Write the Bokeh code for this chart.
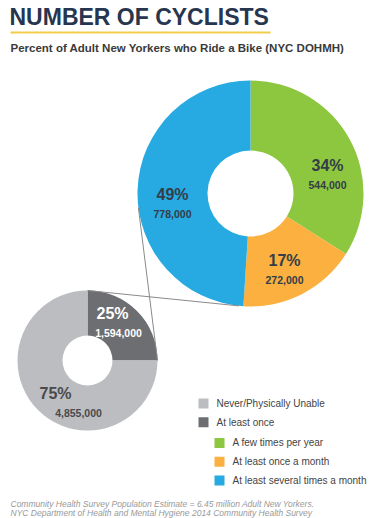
import math
from bokeh.plotting import figure
from bokeh.models import ColumnDataSource, Range1d
from bokeh.core.properties import value
from bokeh.embed import file_html
from bokeh.resources import INLINE

# ---------------- data ----------------
outer_labels = ["Never/Physically Unable", "At least once"]
outer_pct = [75, 25]
outer_count = ["4,855,000", "1,594,000"]
outer_colors = ["#bcbdc0", "#6d6e71"]

inner_labels = ["A few times per year", "At least once a month", "At least several times a month"]
inner_pct = [34, 17, 49]
inner_count = ["544,000", "272,000", "778,000"]
inner_colors = ["#8dc63f", "#fbb040", "#27a9e1"]

title = "NUMBER OF CYCLISTS"
subtitle = "Percent of Adult New Yorkers who Ride a Bike (NYC DOHMH)"
foot1 = "Community Health Survey Population Estimate = 6.45 million Adult New Yorkers."
foot2 = "NYC Department of Health and Mental Hygiene 2014 Community Health Survey"

# ---------------- layout ----------------
W, H = 379, 518
FONT = "Liberation Sans"

def X(ix):
    return ix

def Y(iy):
    return H - iy

p = figure(width=W, height=H, output_backend="svg", toolbar_location=None,
           x_range=Range1d(0, W), y_range=Range1d(0, H), min_border=0)
p.axis.visible = False
p.grid.visible = False
p.outline_line_color = None
p.background_fill_color = "white"
p.border_fill_color = "white"

# big donut geometry
BC = (X(250), Y(193)); BR = 113; BRi = 43
# small donut geometry
SC = (X(87), Y(360)); SR = 70; SRi = 25

def wedges(pcts, start_frac=0.0):
    total = sum(pcts)
    starts, ends = [], []
    cum = start_frac
    for v in pcts:
        f = v / total
        starts.append(math.pi / 2 - cum * 2 * math.pi)
        ends.append(math.pi / 2 - (cum + f) * 2 * math.pi)
        cum += f
    return starts, ends

# small donut: dark slice (25%) starts at 12 o'clock clockwise, then light gray
s_order = [1, 0]
ss, se = wedges([outer_pct[i] for i in s_order])
src_s = ColumnDataSource(dict(start=ss, end=se, color=[outer_colors[i] for i in s_order]))
p.annular_wedge(x=SC[0], y=SC[1], inner_radius=SRi, outer_radius=SR,
                start_angle="start", end_angle="end", direction="clock",
                fill_color="color", line_color=None, source=src_s)

# big donut
bs, be = wedges(inner_pct)
src_b = ColumnDataSource(dict(start=bs, end=be, color=inner_colors))
p.annular_wedge(x=BC[0], y=BC[1], inner_radius=BRi, outer_radius=BR,
                start_angle="start", end_angle="end", direction="clock",
                fill_color="color", line_color=None, source=src_b)

# connector lines (tangents from small donut's dark slice edges to the big donut)
def tangent(P, C, R, sign):
    dx, dy = P[0] - C[0], P[1] - C[1]
    d = math.hypot(dx, dy)
    th = math.atan2(dy, dx)
    a = math.acos(R / d)
    t = th + sign * a
    return (C[0] + R * math.cos(t), C[1] + R * math.sin(t))

P1 = (SC[0], SC[1] + SR)          # top of small donut
P2 = (SC[0] + SR, SC[1])          # right of small donut
T1 = tangent(P1, BC, BR, +1)
T2 = tangent(P2, BC, BR, -1)
p.segment(x0=[P1[0], P2[0]], y0=[P1[1], P2[1]], x1=[T1[0], T2[0]], y1=[T1[1], T2[1]],
          line_color="#8a8a8a", line_width=1)

# ---------------- labels on donuts ----------------
big_pos = [(327, 165), (284, 260), (172, 194)]
p.text(x=[X(a) for a, b in big_pos], y=[Y(b) for a, b in big_pos],
       text=[f"{v}%" for v in inner_pct], text_font=value(FONT), text_font_style="bold",
       text_font_size="16px", text_color="#343d48", text_align="center", text_baseline="middle")
p.text(x=[X(a) for a, b in big_pos], y=[Y(b + 19) for a, b in big_pos],
       text=inner_count, text_font=value(FONT), text_font_style="bold",
       text_font_size="10.5px", text_color="#343d48", text_align="center", text_baseline="middle")

small_pos = [(55, 393), (112, 313)]
small_cnt_pos = [(78, 412), (118, 332)]
small_col = ["#4a4a4c", "#ffffff"]
p.text(x=[X(a) for a, b in small_pos], y=[Y(b) for a, b in small_pos],
       text=[f"{v}%" for v in outer_pct], text_font=value(FONT), text_font_style="bold",
       text_font_size="16px", text_color=small_col, text_align="center", text_baseline="middle")
p.text(x=[X(a) for a, b in small_cnt_pos], y=[Y(b) for a, b in small_cnt_pos],
       text=outer_count, text_font=value(FONT), text_font_style="bold",
       text_font_size="10.5px", text_color=small_col, text_align="center", text_baseline="middle")

# ---------------- title ----------------
p.text(x=[X(9)], y=[Y(16)], text=[title], text_font=value(FONT), text_font_style="bold",
       text_font_size="23px", text_color="#27364f", text_baseline="middle")
p.segment(x0=[X(10)], y0=[Y(32)], x1=[X(270)], y1=[Y(32)], line_color="#f2cd4a", line_width=2)
p.text(x=[X(10)], y=[Y(47)], text=[subtitle], text_font=value(FONT), text_font_style="bold",
       text_font_size="11.5px", text_color="#3a3a3a", text_baseline="middle")

# ---------------- legend ----------------
leg_labels = outer_labels + inner_labels
leg_colors = outer_colors + inner_colors
leg_indent = [0, 0, 1, 1, 1]
leg_rows = [0, 1, 2.1, 3.1, 4.1]
lx = [X(203 + 16 * i) for i in leg_indent]
ly = [Y(403 + 18.8 * r) for r in leg_rows]
p.rect(x=lx, y=ly, width=10, height=10, fill_color=leg_colors, line_color=None)
p.text(x=[v + 13 for v in lx], y=ly, text=leg_labels, text_font=value(FONT),
       text_font_size="10px", text_color="#444444", text_baseline="middle")

# ---------------- footnote ----------------
p.text(x=[X(10), X(10)], y=[Y(503), Y(512)], text=[foot1, foot2], text_font=value(FONT),
       text_font_style="italic", text_font_size="8.5px", text_color="#999999", text_baseline="middle")

open("out.html", "w").write(file_html(p, INLINE))
